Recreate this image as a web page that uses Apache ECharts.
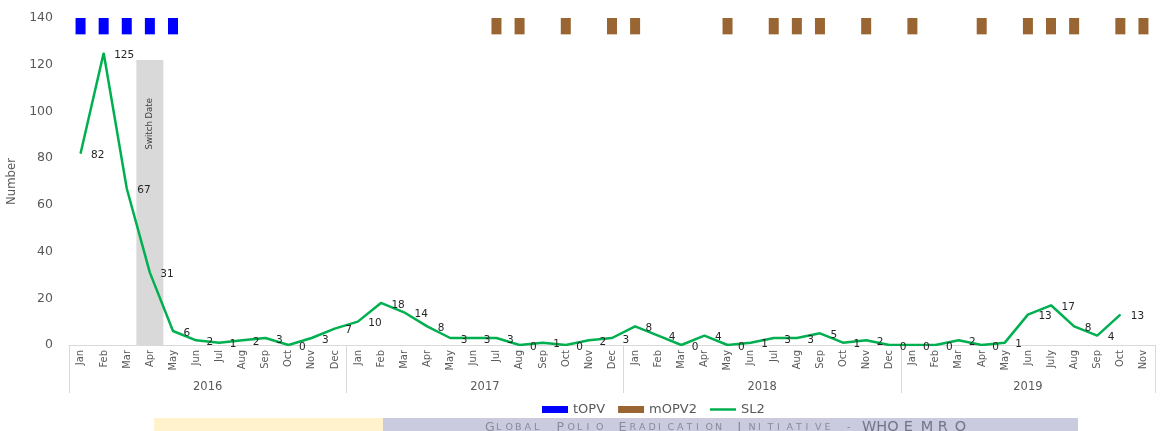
<!DOCTYPE html>
<html>
<head>
<meta charset="utf-8">
<script src="https://cdn.jsdelivr.net/npm/echarts@6/dist/echarts.min.js"></script>
<style>
html,body{margin:0;padding:0;background:#fff;}
#chart{width:1167px;height:431px;}
</style>
</head>
<body>
<div id="chart"></div>
<script>
// ---- data ----
const months = ['Jan','Feb','Mar','Apr','May','Jun','Jul','Aug','Sep','Oct','Nov','Dec',
                'Jan','Feb','Mar','Apr','May','Jun','Jul','Aug','Sep','Oct','Nov','Dec',
                'Jan','Feb','Mar','Apr','May','Jun','Jul','Aug','Sep','Oct','Nov','Dec',
                'Jan','Feb','Mar','Apr','May','Jun','July','Aug','Sep','Oct','Nov'];
const years = ['2016','2017','2018','2019'];
const yearMonthCounts = [12,12,12,11];
const sl2 = [82,125,67,31,6,2,1,2,3,0,3,7,
             10,18,14,8,3,3,3,0,1,0,2,3,
             8,4,0,4,0,1,3,3,5,1,2,0,
             0,0,2,0,1,13,17,8,4,13,null];
// campaign months (1 = campaign round shown)
const tOPV  = [1,1,1,1,1,0,0,0,0,0,0,0,
               0,0,0,0,0,0,0,0,0,0,0,0,
               0,0,0,0,0,0,0,0,0,0,0,0,
               0,0,0,0,0,0,0,0,0,0,0];
const mOPV2 = [0,0,0,0,0,0,0,0,0,0,0,0,
               0,0,0,0,0,0,1,1,0,1,0,1,
               1,0,0,0,1,0,1,1,1,0,1,0,
               1,0,0,1,0,1,1,1,0,1,1];
const campaignBand = [133, 140];     // campaign markers span these values
const switchMonthIndex = 3;          // Apr 2016
const switchValue = 122;
const yTicks = {min:0, max:140, interval:20};
const footerWords = [['G','LOBAL'],['P','OLIO'],['E','RADICATION'],['I','NITIATIVE']];
const footerTail = ['-','WHO','EMRO'];

// ---- derived series ----
const baseData = months.map((m,i)=> (tOPV[i]||mOPV2[i]) ? campaignBand[0] : null);
const tData = tOPV.map(f => f ? campaignBand[1]-campaignBand[0] : null);
const mData = mOPV2.map(f => f ? campaignBand[1]-campaignBand[0] : null);
const switchData = months.map((m,i)=> i===switchMonthIndex ? switchValue : null);
const boundaries = [0]; yearMonthCounts.forEach(c=>boundaries.push(boundaries[boundaries.length-1]+c));
const yearCenters = yearMonthCounts.map((c,i)=> boundaries[i] + c/2);

// footer text with small caps tracking
let footer = '';
footerWords.forEach(w=>{
  footer += '{b|' + w[0] + '}';
  w[1].split('').forEach(ch=>{ footer += '{s|' + ch + '}'; });
  footer += '{g|}';
});
footer += '{d|' + footerTail[0] + '}{w|' + footerTail[1] + '}{g2|}';
footerTail[2].split('').forEach(ch=>{ footer += '{e|' + ch + '}'; });

const narrow = "'DejaVu Sans Condensed','Liberation Sans',sans-serif";
const chart = echarts.init(document.getElementById('chart'));
const gray = '#595959';
chart.setOption({
  animation:false,
  backgroundColor:'#fff',
  grid:{left:69,right:12,top:18,bottom:86,containLabel:false,outerBoundsMode:'none'},
  legend:{
    left:537, top:398, itemWidth:26, itemHeight:7, itemGap:13,
    textStyle:{fontSize:13, color:gray, fontFamily:'DejaVu Sans'},
    data:[{name:'tOPV',icon:'rect'},{name:'mOPV2',icon:'rect'},{name:'SL2',icon:'path://M0,0H26V2.5H0Z'}]
  },
  xAxis:[
    {type:'category', data:months, position:'bottom',
     axisLine:{lineStyle:{color:'#d9d9d9',width:1}},
     axisTick:{show:false},
     axisLabel:{rotate:90, interval:0, margin:5, fontSize:11, color:gray, fontFamily:narrow}},
    {type:'category', data:months, show:false},
    {type:'value', min:0, max:boundaries[boundaries.length-1], position:'bottom',
     axisLine:{show:false}, splitLine:{show:false},
     axisTick:{show:true, customValues:boundaries, length:48, lineStyle:{color:'#d9d9d9',width:1}},
     axisLabel:{customValues:yearCenters, margin:36, fontSize:11.5, color:gray, fontFamily:'DejaVu Sans',
       formatter:(v)=>{ const i = yearCenters.indexOf(v); return i>=0 ? years[i] : ''; }}}
  ],
  yAxis:{
    type:'value', min:yTicks.min, max:yTicks.max, interval:yTicks.interval,
    axisLine:{show:false}, axisTick:{show:false}, splitLine:{show:false},
    axisLabel:{margin:16, fontSize:12.5, color:gray, fontFamily:'DejaVu Sans'},
    name:'Number', nameLocation:'middle', nameGap:46,
    nameTextStyle:{fontSize:13, color:gray, fontFamily:narrow}
  },
  series:[
    {name:'switch', type:'bar', xAxisIndex:1, data:switchData, barWidth:27, silent:true,
     itemStyle:{color:'#d9d9d9'}, z:1,
     label:{show:true, formatter:'Switch Date', position:['50%',38], rotate:90, align:'right', verticalAlign:'middle',
       fontSize:9.5, color:'#404040', fontFamily:narrow}},
    {name:'base', type:'bar', stack:'vax', xAxisIndex:0, data:baseData, barWidth:10, silent:true,
     itemStyle:{color:'rgba(0,0,0,0)'}},
    {name:'tOPV', type:'bar', stack:'vax', xAxisIndex:0, data:tData, barWidth:10, itemStyle:{color:'#0000ff'}},
    {name:'mOPV2', type:'bar', stack:'vax', xAxisIndex:0, data:mData, barWidth:10, itemStyle:{color:'#996633'}},
    {name:'SL2', type:'line', xAxisIndex:0, data:sl2, symbol:'circle', symbolSize:1, z:5,
     itemStyle:{color:'#00b050'}, lineStyle:{color:'#00b050', width:2.5},
     label:{show:true, position:'right', distance:10, offset:[0,2], fontSize:10.5, color:'#262626', fontFamily:'DejaVu Sans'}}
  ],
  graphic:[
    {type:'rect', left:154, top:418, shape:{width:229, height:13}, style:{fill:'#fff2cc'}, silent:true},
    {type:'rect', left:383, top:418, shape:{width:695, height:13}, style:{fill:'#cbcbdf'}, silent:true},
    {type:'text', left:485, top:420, silent:true,
     style:{text:footer,
       rich:{b:{fontSize:12.5, width:11, fill:'#8a8a9a', fontFamily:'DejaVu Sans'},
             s:{fontSize:9.5, width:9.5, fill:'#8a8a9a', fontFamily:'DejaVu Sans'},
             g:{width:13},
             d:{fontSize:10, width:15, fill:'#8a8a9a', fontFamily:'DejaVu Sans'},
             w:{fontSize:14.5, fill:'#74748a', fontFamily:'DejaVu Sans'},
             g2:{width:5},
             e:{fontSize:14.5, width:17, fill:'#74748a', fontFamily:'DejaVu Sans'}}}}
  ]
});
</script>
</body>
</html>
